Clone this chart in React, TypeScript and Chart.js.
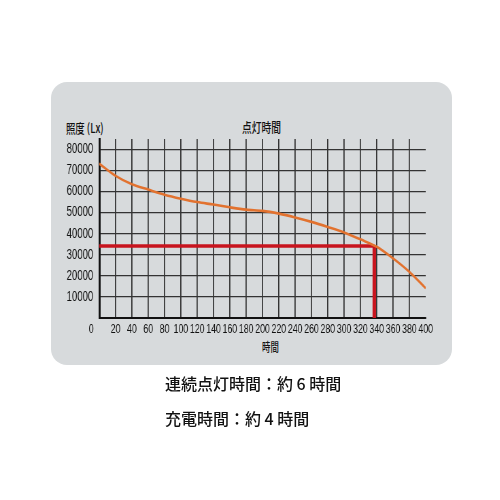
import { useEffect, useRef } from 'react';
import { Chart, registerables } from 'chart.js';

Chart.register(...registerables);

// 点灯時間 (分) と照度 (Lx)
const hours = [0, 20, 40, 60, 80, 100, 120, 140, 160, 180, 200, 220, 240, 260, 280, 300, 320, 340, 360, 380, 400];
const lux = [73200, 67400, 63400, 60900, 58500, 56600, 55000, 53800, 52500, 51400, 50800, 49500, 47700, 45600, 43200, 40600, 37300, 33800, 28300, 21900, 14100];

// 連続点灯の目安線 (横線と縦線)
const markerHoursH = [0, 337];
const markerLuxH = [34200, 34200];
const markerHoursV = [337, 337];
const markerLuxV = [34200, 0];

const xTicks = [20, 40, 60, 80, 100, 120, 140, 160, 180, 200, 220, 240, 260, 280, 300, 320, 340, 360, 380, 400];
const yTicks = [10000, 20000, 30000, 40000, 50000, 60000, 70000, 80000];

// the canvas is squeezed horizontally to get the condensed look of the original
const SQUEEZE = 0.68;
const CANVAS_W = 735;

const tickFont = '"Liberation Sans", Arial, sans-serif';
const cjkFont = '"Noto Sans CJK JP", "Noto Sans", sans-serif';

const zeroLabel = {
  id: 'zeroLabel',
  afterDraw(chart: any) {
    const { ctx, chartArea } = chart;
    ctx.save();
    ctx.font = `13px ${tickFont}`;
    ctx.fillStyle = '#111';
    ctx.textAlign = 'center';
    ctx.textBaseline = 'middle';
    ctx.fillText('0', chartArea.left - 12, chartArea.bottom + 11);
    ctx.restore();
  },
};

const pts = (xs: number[], ys: number[]) => xs.map((x, i) => ({ x, y: ys[i] }));

export default function App() {
  const canvasRef = useRef<HTMLCanvasElement>(null);
  const chartRef = useRef<any>(null);

  useEffect(() => {
    if (!canvasRef.current) return;
    if (chartRef.current) chartRef.current.destroy();

    chartRef.current = new Chart(canvasRef.current, {
      type: 'line',
      data: {
        datasets: [
          {
            label: '照度',
            data: pts(hours, lux),
            borderColor: '#E2722F',
            borderWidth: 2.6,
            pointRadius: 0,
            cubicInterpolationMode: 'monotone',
          },
          {
            label: '目安 横',
            data: pts(markerHoursH, markerLuxH),
            borderColor: '#C8141E',
            borderWidth: 3.5,
            pointRadius: 0,
          },
          {
            label: '目安 縦',
            data: pts(markerHoursV, markerLuxV),
            borderColor: '#C8141E',
            borderWidth: 3.5 / SQUEEZE,
            pointRadius: 0,
          },
        ],
      },
      options: {
        responsive: true,
        maintainAspectRatio: false,
        animation: false,
        layout: { padding: { left: 86, right: 109, top: 139, bottom: 162 } },
        plugins: {
          legend: { display: false },
          tooltip: { enabled: false },
        },
        scales: {
          x: {
            type: 'linear',
            min: 0,
            max: 400,
            afterBuildTicks: (scale: any) => {
              scale.ticks = xTicks.map((v) => ({ value: v }));
            },
            afterFit: (scale: any) => {
              scale.height = 20;
            },
            grid: {
              color: (ctx: any) => (ctx.tick && ctx.tick.value === 400 ? 'rgba(0,0,0,0)' : '#333'),
              lineWidth: 1.2 / SQUEEZE,
              drawTicks: false,
            },
            border: { color: '#111', width: 2 },
            ticks: {
              autoSkip: false,
              maxRotation: 0,
              padding: 4,
              color: '#111',
              font: { family: tickFont, size: 13 },
            },
          },
          y: {
            min: 0,
            max: 84900,
            afterBuildTicks: (scale: any) => {
              scale.ticks = yTicks.map((v) => ({ value: v }));
            },
            afterFit: (scale: any) => {
              scale.width = 60;
            },
            grid: { color: '#333', lineWidth: 1.2, drawTicks: false },
            border: { color: '#111', width: 2 / SQUEEZE },
            ticks: {
              padding: 9,
              color: '#111',
              font: { family: tickFont, size: 14 },
              callback: (v: any) => String(v),
            },
          },
        },
      },
      plugins: [zeroLabel],
    });

    return () => {
      if (chartRef.current) chartRef.current.destroy();
    };
  }, []);

  const label = (text: string, left: number, top: number, size: number, extra: any = {}) => (
    <div
      style={{
        position: 'absolute',
        left,
        top,
        fontFamily: cjkFont,
        fontSize: size,
        lineHeight: 1,
        color: '#111',
        whiteSpace: 'nowrap',
        ...extra,
      }}
    >
      {text}
    </div>
  );

  return (
    <div style={{ position: 'fixed', left: 0, top: 0, width: 500, height: 500, background: '#fff' }}>
      <div
        style={{
          position: 'absolute',
          left: 51,
          top: 82,
          width: 401,
          height: 283,
          borderRadius: 16,
          background: '#D7DADC',
        }}
      />
      {label('照度 (Lx)', 66, 121, 13, { transform: 'scaleX(0.72)', transformOrigin: 'left top', fontWeight: 500 })}
      {label('点灯時間', 242, 120, 13, { transform: 'scaleX(0.75)', transformOrigin: 'left top', fontWeight: 500 })}
      {label('時間', 262, 341, 12, { transform: 'scaleX(0.7)', transformOrigin: 'left top', fontWeight: 500 })}
      <div
        style={{
          position: 'absolute',
          left: 0,
          top: 0,
          width: CANVAS_W,
          height: 500,
          transform: `scaleX(${SQUEEZE})`,
          transformOrigin: 'left top',
        }}
      >
        <canvas ref={canvasRef}></canvas>
      </div>
      {label('連続点灯時間：約 6 時間', 165, 375, 16, { fontWeight: 500 })}
      {label('充電時間：約 4 時間', 165, 410, 16, { fontWeight: 500 })}
    </div>
  );
}
